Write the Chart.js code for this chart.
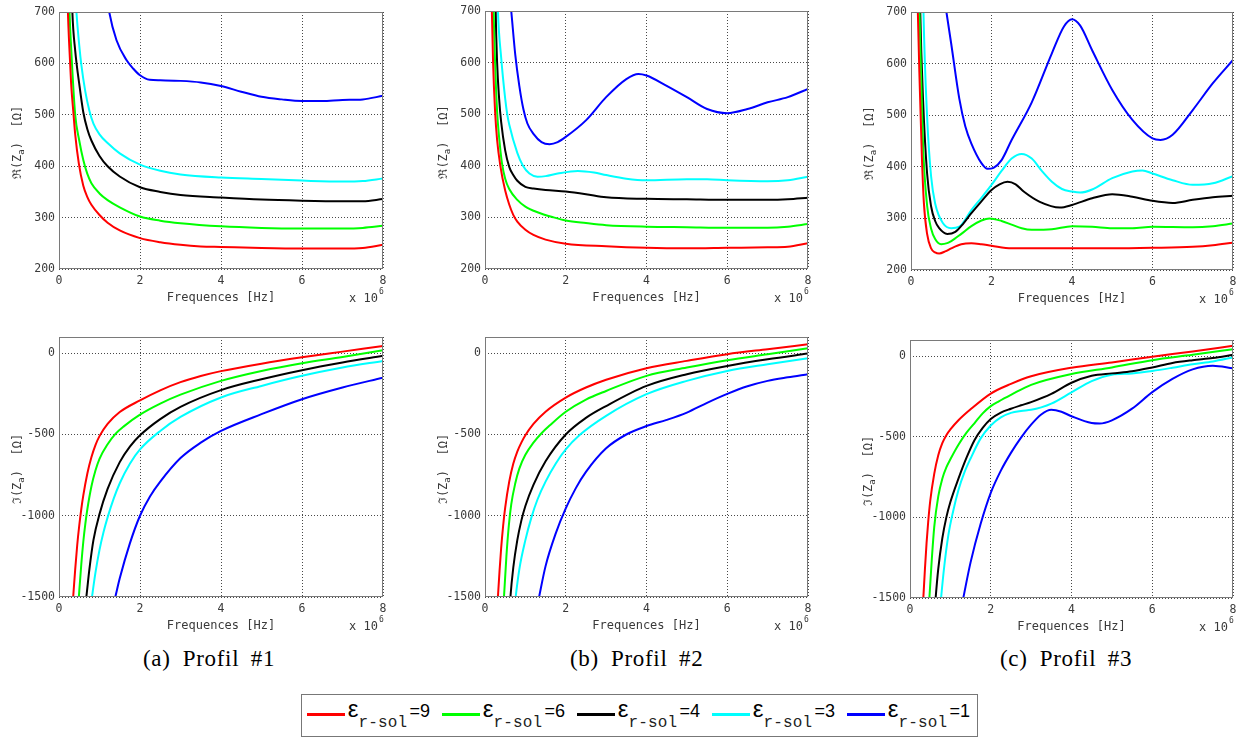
<!DOCTYPE html>
<html><head><meta charset="utf-8">
<script src="https://cdn.jsdelivr.net/npm/chart.js@4.4.1/dist/chart.umd.min.js"></script>
<style>
html,body{margin:0;padding:0;background:#fff;}
body{width:1239px;height:738px;position:relative;overflow:hidden;}
canvas{position:absolute;}
.cap{position:absolute;font-family:"Liberation Serif","DejaVu Serif",serif;font-size:23px;line-height:23px;color:#000;white-space:pre;word-spacing:5px;letter-spacing:0.7px;}
.cap .lab{margin-right:12px;}
#legend{position:absolute;left:301px;top:694px;width:677px;height:43px;border:1px solid #777;box-sizing:border-box;background:#fff;}
.item{position:absolute;top:0;left:0;height:40px;width:132px;}
.sw{position:absolute;left:0;top:18px;width:38px;height:3px;}
.txt{position:absolute;left:41px;top:2px;white-space:nowrap;font-family:"Liberation Sans",sans-serif;font-size:24px;line-height:24px;}
.eps{line-height:0;font-size:24px;}
.sub{line-height:0;font-family:"Liberation Mono",monospace;font-size:16px;position:relative;top:9.5px;color:#222;letter-spacing:0.2px;}
.eq{line-height:0;font-size:18px;margin-left:2px;}
</style>
</head><body>
<div class="cap" style="left:143px;top:647px"><span class="lab">(a)</span>Profil #1</div>
<div class="cap" style="left:570px;top:647px"><span class="lab">(b)</span>Profil #2</div>
<div class="cap" style="left:1000px;top:647px"><span class="lab">(c)</span>Profil #3</div>
<div id="legend"></div>
<script>
// ---------- shared axis definitions ----------
const xTicks = [0, 2, 4, 6, 8];              // x 10^6 Hz
const reTicks = [200, 300, 400, 500, 600, 700];
const imTicks = [-1500, -1000, -500, 0];
const xTitle = 'Frequences [Hz]';
const epsValues = ['9', '6', '4', '3', '1'];
const seriesColors = ['#ff0000', '#00ff00', '#000000', '#00ffff', '#0000ff'];

// ---------- Profil #1 : real part  [f (x10^6 Hz), Ohm] ----------
const re1_e9 = [[0.19,800],[0.22,700],[0.25,640],[0.3,560],[0.36,500],[0.4,462],[0.49,405],[0.6,362],[0.7,340],[0.8,325],[1.0,305],[1.2,290],[1.5,275],[2,260],[2.5,252],[3,247],[3.5,244],[4,243],[5,241],[6,240],[7,240],[7.5,241],[8,247]];
const re1_e6 = [[0.23,800],[0.26,700],[0.3,630],[0.4,500],[0.5,450],[0.6,412],[0.7,385],[0.8,367],[1.0,347],[1.2,334],[1.5,320],[2,302],[2.5,294],[3,289],[4,283],[5,280],[6,279],[7,279],[7.5,280],[8,284]];
const re1_e4 = [[0.3,790],[0.33,700],[0.4,625],[0.5,560],[0.6,505],[0.7,472],[0.8,450],[1.0,420],[1.2,400],[1.5,380],[2,359],[2.5,350],[3,344],[4,339],[5,335],[6,333],[7,332],[7.5,332],[8,336]];
const re1_e3 = [[0.4,740],[0.43,700],[0.5,635],[0.55,598],[0.65,545],[0.75,508],[0.85,483],[1.0,462],[1.2,445],[1.5,425],[2,403],[2.5,391],[3,384],[4,378],[5,375],[6,372],[7,370],[7.5,371],[8,376]];
const re1_e1 = [[1.15,750],[1.24,700],[1.42,645],[1.67,606],[1.83,590],[2,577],[2.24,568],[2.5,567],[3,566],[3.5,563],[4,556],[4.5,545],[5,535],[5.5,530],[6,527],[6.5,527],[7,529],[7.5,530],[8,537]];
// ---------- Profil #1 : imaginary part ----------
const im1_e9 = [[0.33,-1570],[0.35,-1500],[0.4,-1330],[0.45,-1180],[0.5,-1060],[0.55,-960],[0.6,-875],[0.7,-740],[0.8,-640],[0.9,-565],[1.0,-510],[1.2,-435],[1.5,-362],[2,-290],[2.5,-228],[3,-178],[3.5,-140],[4,-110],[5,-64],[6,-25],[7,10],[8,45]];
const im1_e6 = [[0.47,-1570],[0.49,-1500],[0.55,-1300],[0.6,-1160],[0.65,-1050],[0.7,-960],[0.8,-820],[0.9,-722],[1.0,-650],[1.2,-560],[1.4,-495],[1.6,-450],[2,-378],[2.5,-310],[3,-255],[4,-170],[5,-109],[6,-61],[7,-23],[8,18]];
const im1_e4 = [[0.65,-1550],[0.675,-1500],[0.75,-1330],[0.85,-1150],[1.0,-990],[1.2,-835],[1.5,-670],[1.75,-575],[2,-505],[2.5,-405],[3,-330],[4,-227],[5,-160],[6,-104],[7,-57],[8,-16]];
const im1_e3 = [[0.79,-1550],[0.815,-1500],[0.9,-1350],[1.0,-1210],[1.1,-1100],[1.2,-1010],[1.35,-895],[1.5,-800],[1.75,-680],[2,-592],[2.5,-478],[3,-392],[4,-272],[5,-201],[6,-139],[7,-88],[8,-47]];
const im1_e1 = [[1.34,-1550],[1.39,-1500],[1.5,-1385],[1.75,-1170],[2,-1000],[2.25,-880],[2.5,-790],[3,-645],[3.5,-550],[4,-478],[5,-375],[6,-283],[7,-211],[8,-150]];

// ---------- Profil #2 : real part ----------
const re2_e9 = [[0.15,800],[0.17,700],[0.2,600],[0.25,505],[0.3,450],[0.38,400],[0.5,352],[0.6,325],[0.7,305],[0.8,292],[1,276],[1.2,266],[1.5,257],[2,249],[3,244],[4,241],[5,240],[6,241],[7,242],[7.5,243],[8,250]];
const re2_e6 = [[0.2,800],[0.215,700],[0.25,600],[0.3,505],[0.35,455],[0.42,405],[0.5,375],[0.6,355],[0.8,334],[1,321],[1.3,310],[1.7,300],[2,294],[2.5,289],[3,285],[4,282],[5,281],[6,280],[7,280],[7.5,282],[8,287]];
const re2_e4 = [[0.25,800],[0.265,700],[0.3,600],[0.35,530],[0.4,485],[0.5,430],[0.6,398],[0.7,382],[0.8,371],[1,359],[1.2,356],[1.5,353],[2,350],[2.5,345],[3,339],[4,336],[5,335],[6,334],[7,334],[7.5,335],[8,338]];
const re2_e3 = [[0.3,760],[0.32,700],[0.4,610],[0.5,530],[0.55,500],[0.6,480],[0.8,425],[0.94,400],[1.1,385],[1.3,379],[1.5,380],[1.8,385],[2.3,390],[2.7,387],[3,382],[3.5,375],[4,372],[5,374],[5.5,374],[6,372],[7,370],[7.5,372],[8,379]];
const re2_e1 = [[0.6,740],[0.65,700],[0.75,615],[0.85,555],[0.95,510],[1.05,482],[1.2,462],[1.4,446],[1.6,442],[1.8,446],[2,456],[2.5,488],[3,533],[3.5,568],[3.8,578],[4,575],[4.5,555],[5,533],[5.5,510],[6,502],[6.5,510],[7,523],[7.5,533],[8,549]];
// ---------- Profil #2 : imaginary part ----------
const im2_e9 = [[0.31,-1550],[0.32,-1500],[0.36,-1340],[0.4,-1200],[0.45,-1060],[0.5,-950],[0.6,-790],[0.7,-680],[0.8,-605],[0.9,-550],[1.0,-505],[1.2,-435],[1.5,-360],[2,-273],[2.5,-211],[3,-163],[4,-92],[5,-47],[6,-6],[7,25],[8,55]];
const im2_e6 = [[0.46,-1550],[0.47,-1500],[0.53,-1250],[0.59,-1060],[0.65,-930],[0.75,-800],[0.85,-710],[1.0,-625],[1.2,-550],[1.4,-492],[1.6,-445],[2,-360],[2.5,-285],[3,-232],[4,-139],[5,-88],[6,-43],[7,-6],[8,31]];
const im2_e4 = [[0.62,-1540],[0.63,-1500],[0.7,-1320],[0.8,-1150],[0.9,-1030],[1.0,-940],[1.2,-810],[1.5,-665],[2,-500],[2.5,-398],[3,-325],[4,-201],[5,-129],[6,-78],[7,-37],[8,-2]];
const im2_e3 = [[0.74,-1550],[0.76,-1500],[0.85,-1330],[1.0,-1150],[1.15,-1010],[1.3,-900],[1.5,-790],[1.75,-680],[2,-592],[2.35,-502],[3,-385],[4,-252],[5,-170],[6,-109],[7,-68],[8,-31]];
const im2_e1 = [[1.3,-1550],[1.34,-1500],[1.5,-1310],[1.75,-1110],[2,-955],[2.25,-830],[2.5,-730],[3,-585],[3.5,-500],[4,-448],[4.5,-410],[5,-365],[5.5,-305],[6,-250],[6.5,-203],[7,-170],[7.5,-148],[8,-129]];

// ---------- Profil #3 : real part ----------
const re3_e9 = [[0.15,800],[0.17,700],[0.22,550],[0.27,420],[0.32,330],[0.4,270],[0.5,242],[0.6,234],[0.7,232],[0.85,236],[1,242],[1.25,250],[1.5,252],[1.75,250],[2,247],[2.5,242],[3,242],[4,242],[5,242],[6,243],[7,245],[7.5,248],[8,253]];
const re3_e6 = [[0.19,800],[0.21,700],[0.25,580],[0.3,440],[0.4,325],[0.5,280],[0.6,260],[0.75,250],[0.9,252],[1,256],[1.25,270],[1.5,285],[1.75,296],[1.95,300],[2.25,295],[2.5,288],[2.75,281],[3,278],[3.5,279],[4,285],[4.5,284],[5,281],[5.5,281],[6,284],[7,283],[7.5,285],[8,290]];
const re3_e4 = [[0.21,800],[0.23,700],[0.3,529],[0.4,387],[0.5,323],[0.6,295],[0.7,281],[0.9,270],[1.1,274],[1.3,290],[1.5,310],[1.75,333],[2,355],[2.2,366],[2.4,371],[2.6,366],[2.8,352],[3.2,332],[3.7,321],[4,326],[4.5,339],[5,347],[5.5,342],[6,334],[6.5,330],[7,336],[7.5,341],[8,344]];
const re3_e3 = [[0.29,800],[0.31,700],[0.4,497],[0.5,381],[0.6,329],[0.8,290],[1,281],[1.2,284],[1.5,316],[1.75,340],[2,365],[2.25,392],[2.5,416],[2.75,425],[3,416],[3.25,392],[3.5,371],[3.75,357],[4,352],[4.2,350],[4.5,356],[5,378],[5.5,391],[5.75,393],[6,387],[6.5,374],[7,365],[7.5,368],[8,382]];
const re3_e1 = [[0.8,745],[0.88,700],[1,638],[1.2,532],[1.35,478],[1.5,445],[1.75,407],[1.9,396],[2.05,398],[2.25,413],[2.5,452],[3,525],[3.5,620],[3.8,672],[4,686],[4.2,674],[4.5,626],[5,549],[5.5,491],[6,455],[6.2,452],[6.5,462],[7,510],[7.5,562],[8,607]];
// ---------- Profil #3 : imaginary part ----------
const im3_e9 = [[0.32,-1550],[0.33,-1500],[0.37,-1320],[0.41,-1160],[0.45,-1030],[0.5,-900],[0.6,-730],[0.7,-615],[0.8,-540],[0.9,-490],[1.0,-455],[1.2,-398],[1.5,-330],[2,-232],[2.5,-172],[3,-125],[4,-72],[5,-39],[6,-4],[7,29],[8,64]];
const im3_e6 = [[0.47,-1550],[0.48,-1500],[0.54,-1260],[0.6,-1060],[0.7,-870],[0.8,-760],[0.9,-690],[1.0,-640],[1.2,-550],[1.4,-475],[1.6,-415],[1.8,-355],[2,-310],[2.2,-280],[2.5,-240],[3,-178],[4,-111],[5,-70],[6,-25],[7,8],[8,43]];
const im3_e4 = [[0.62,-1550],[0.635,-1500],[0.7,-1320],[0.8,-1130],[0.9,-1000],[1.0,-905],[1.2,-760],[1.4,-630],[1.6,-520],[1.8,-445],[2,-390],[2.25,-350],[2.5,-326],[2.75,-305],[3,-285],[3.5,-234],[4,-165],[4.5,-122],[5,-107],[5.5,-94],[6,-70],[6.5,-42],[7,-25],[7.5,-12],[8,8]];
const im3_e3 = [[0.75,-1560],[0.77,-1500],[0.85,-1300],[0.95,-1110],[1.07,-960],[1.2,-830],[1.35,-720],[1.5,-635],[1.75,-510],[2,-430],[2.25,-380],[2.5,-352],[2.75,-340],[3,-333],[3.25,-318],[3.5,-295],[4,-225],[4.5,-155],[5,-115],[5.5,-107],[6,-92],[6.5,-72],[7,-50],[7.5,-33],[8,-8]];
const im3_e1 = [[1.28,-1550],[1.32,-1500],[1.5,-1279],[1.75,-1040],[2,-848],[2.25,-710],[2.5,-600],[2.75,-505],[3,-425],[3.25,-362],[3.5,-333],[3.75,-345],[4,-373],[4.5,-415],[4.7,-418],[5,-398],[5.5,-326],[6,-223],[6.5,-141],[7,-82],[7.5,-60],[8,-76]];

// ---------- layout of the six panels ----------
const PADL = 58, PADT = 12, PADR = 14, PADB = 40;
const FONT_MONO = '"DejaVu Sans Mono", "Liberation Mono", monospace';
const AXIS_TEXT = '#3a3a3a';

const decor = {
  id: 'decor',
  afterDraw(chart, args, opts) {
    const {ctx, chartArea: a} = chart;
    ctx.save();
    ctx.strokeStyle = '#7a7a7a';
    ctx.lineWidth = 1;
    ctx.strokeRect(a.left + 0.5, a.top + 0.5, a.right - a.left - 1, a.bottom - a.top - 1);
    ctx.fillStyle = AXIS_TEXT;
    ctx.textBaseline = 'middle';
    ctx.textAlign = 'left';
    const big = '12px ' + FONT_MONO, small = '9px ' + FONT_MONO;
    const parts = [[opts.sym + '(Z', big, 0], ['a', small, 4], [')  [Ω]', big, 0]];
    let total = 0;
    parts.forEach(p => { ctx.font = p[1]; p.push(ctx.measureText(p[0]).width); total += p[3]; });
    ctx.translate(a.left - 41, (a.top + a.bottom) / 2 + 2);
    ctx.rotate(-Math.PI / 2);
    let x = -total / 2;
    parts.forEach(p => { ctx.font = p[1]; ctx.fillText(p[0], x, p[2]); x += p[3]; });
    ctx.restore();
    ctx.save();
    ctx.fillStyle = AXIS_TEXT;
    ctx.textBaseline = 'middle';
    ctx.font = '12px ' + FONT_MONO;
    ctx.textAlign = 'right';
    ctx.fillText('x 10', a.right - 5, a.bottom + 30);
    ctx.font = '8px ' + FONT_MONO;
    ctx.textAlign = 'left';
    ctx.fillText('6', a.right - 4, a.bottom + 23);
    ctx.restore();
  }
};

function makePanel(box, seriesList, yMin, yMax, yTicks, sym) {
  const [L, T, R, B] = box;
  const cv = document.createElement('canvas');
  const w = R - L + PADL + PADR, h = B - T + PADT + PADB;
  cv.width = w; cv.height = h;
  cv.style.width = w + 'px'; cv.style.height = h + 'px';
  cv.style.left = (L - PADL) + 'px'; cv.style.top = (T - PADT) + 'px';
  document.body.appendChild(cv);
  const tickFont = {family: FONT_MONO, size: 11.5};
  const gridOpts = {color: 'rgba(40,40,40,0.85)', lineWidth: 1, drawTicks: false, borderDash: [1, 2]};
  new Chart(cv, {
    type: 'scatter',
    data: {
      datasets: seriesList.map((s, i) => ({
        label: 'ε r-sol=' + epsValues[i],
        data: s.map(p => ({x: p[0], y: p[1]})),
        showLine: true,
        borderColor: seriesColors[i],
        backgroundColor: seriesColors[i],
        borderWidth: 2,
        pointRadius: 0,
        pointHoverRadius: 0,
        cubicInterpolationMode: 'monotone',
        clip: 0
      }))
    },
    options: {
      responsive: false,
      animation: false,
      devicePixelRatio: 1,
      events: [],
      layout: {padding: {left: 0, top: PADT, right: PADR, bottom: 0}},
      plugins: {legend: {display: false}, tooltip: {enabled: false}, decor: {sym: sym}},
      scales: {
        x: {
          type: 'linear', min: 0, max: 8,
          afterBuildTicks: s => { s.ticks = xTicks.map(v => ({value: v})); },
          afterFit: s => { s.height = PADB; },
          grid: gridOpts,
          border: {display: false, dash: [1, 2]},
          ticks: {padding: 5, color: AXIS_TEXT, font: tickFont, maxRotation: 0, autoSkip: false, callback: v => String(v)},
          title: {display: true, text: xTitle, color: AXIS_TEXT, font: {family: FONT_MONO, size: 12}, padding: {top: 0, bottom: 4}}
        },
        y: {
          type: 'linear', min: yMin, max: yMax,
          afterBuildTicks: s => { s.ticks = yTicks.map(v => ({value: v})); },
          afterFit: s => { s.width = PADL; },
          grid: gridOpts,
          border: {display: false, dash: [1, 2]},
          ticks: {padding: 4, color: AXIS_TEXT, font: tickFont, autoSkip: false, callback: v => String(v)}
        }
      }
    },
    plugins: [decor]
  });
}

makePanel([59, 12, 383, 269], [re1_e9, re1_e6, re1_e4, re1_e3, re1_e1], 200, 700, reTicks, 'ℜ');
makePanel([485, 11, 808, 269], [re2_e9, re2_e6, re2_e4, re2_e3, re2_e1], 200, 700, reTicks, 'ℜ');
makePanel([911, 12, 1233, 270], [re3_e9, re3_e6, re3_e4, re3_e3, re3_e1], 200, 700, reTicks, 'ℜ');
makePanel([59, 337, 383, 597], [im1_e9, im1_e6, im1_e4, im1_e3, im1_e1], -1500, 100, imTicks, 'ℑ');
makePanel([485, 337, 808, 597], [im2_e9, im2_e6, im2_e4, im2_e3, im2_e1], -1500, 100, imTicks, 'ℑ');
makePanel([910, 340, 1233, 598], [im3_e9, im3_e6, im3_e4, im3_e3, im3_e1], -1500, 100, imTicks, 'ℑ');

// ---------- shared legend (HTML text) ----------
const legend = document.getElementById('legend');
epsValues.forEach((e, i) => {
  const it = document.createElement('div');
  it.className = 'item';
  it.style.left = (4.7 + i * 135) + 'px';
  it.innerHTML = '<div class="sw" style="background:' + seriesColors[i] + '"></div>' +
    '<div class="txt"><span class="eps">ε</span><span class="sub">r-sol</span><span class="eq">=' + e + '</span></div>';
  legend.appendChild(it);
});
</script>
</body></html>
